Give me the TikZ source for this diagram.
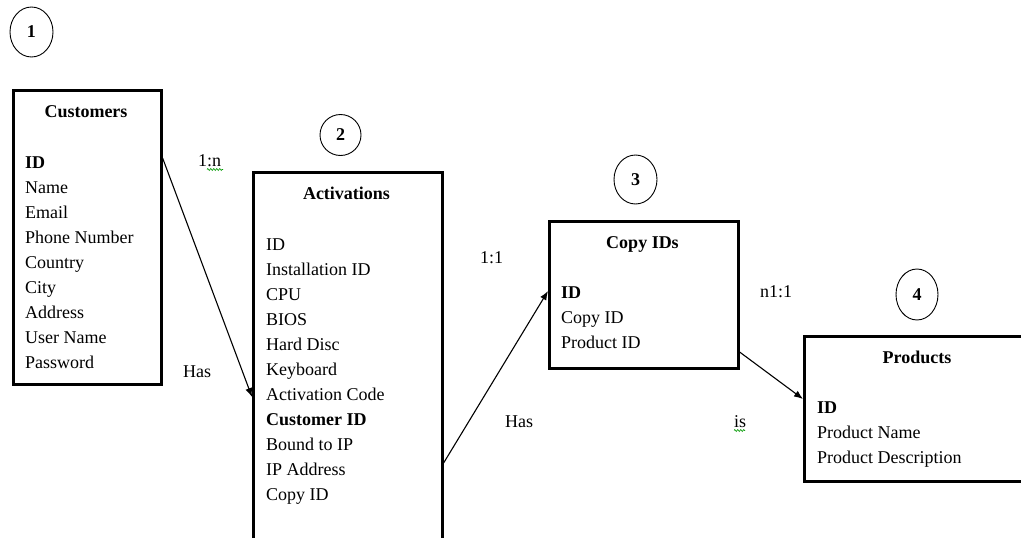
\documentclass[tikz,border=0pt]{standalone}
\usepackage{fontspec}
\setmainfont{Liberation Serif}
\usetikzlibrary{arrows.meta,shapes.geometric,decorations.pathmorphing}
\begin{document}
\begin{tikzpicture}[x=1pt,y=-1pt,
  tbl/.style={draw, line width=2.6pt, anchor=north west, inner sep=0pt},
  fld/.style={anchor=base west, inner sep=0pt, font=\fontsize{18}{22}\selectfont},
  key/.style={fld, font=\fontsize{18}{22}\selectfont\bfseries},
  hdr/.style={anchor=base, inner sep=0pt, font=\fontsize{18}{22}\selectfont\bfseries},
  num/.style={draw, ellipse, line width=0.9pt, inner sep=0pt, font=\fontsize{18}{22}\selectfont\bfseries},
  rel/.style={line width=1.1pt, -{Latex[length=9pt,width=7pt]}},
  lbl/.style={anchor=base west, inner sep=0pt, font=\fontsize{18}{22}\selectfont},
  spell/.style={green!60!black, line width=0.6pt, decorate, decoration={zigzag, segment length=3pt, amplitude=1pt}}
]
\useasboundingbox (0,0) rectangle (1021,538);

% numbered ellipses
\node[num, minimum width=43pt, minimum height=50pt] (n1) at (31.5,32) {1};
\node[num, minimum width=41pt, minimum height=41pt] (n2) at (340.5,135) {2};
\node[num, minimum width=43pt, minimum height=49pt] (n3) at (635.5,179.5) {3};
\node[num, minimum width=42pt, minimum height=51pt] (n4) at (917,294.5) {4};

% tables
\node[tbl, minimum width=148pt, minimum height=294pt] (cust) at (12,89) {};
\node[tbl, minimum width=189pt, minimum height=374pt] (act) at (252,171) {};
\node[tbl, minimum width=189pt, minimum height=147pt] (copy) at (548,220) {};
\node[tbl, minimum width=228pt, minimum height=145pt] (prod) at (803,335) {};

% Customers
\node[hdr] (ch) at (86,117) {Customers};
\node[key] (c1) at (25,168) {ID};
\node[fld] (c2) at (25,193) {Name};
\node[fld] (c3) at (25,218) {Email};
\node[fld] (c4) at (25,243) {Phone Number};
\node[fld] (c5) at (25,268) {Country};
\node[fld] (c6) at (25,293) {City};
\node[fld] (c7) at (25,318) {Address};
\node[fld] (c8) at (25,343) {User Name};
\node[fld] (c9) at (25,368) {Password};

% Activations
\node[hdr] (ah) at (346.5,199) {Activations};
\node[fld] (a1) at (266,250) {ID};
\node[fld] (a2) at (266,275) {Installation ID};
\node[fld] (a3) at (266,300) {CPU};
\node[fld] (a4) at (266,325) {BIOS};
\node[fld] (a5) at (266,350) {Hard Disc};
\node[fld] (a6) at (266,375) {Keyboard};
\node[fld] (a7) at (266,400) {Activation Code};
\node[key] (a8) at (266,425) {Customer ID};
\node[fld] (a9) at (266,450) {Bound to IP};
\node[fld] (a10) at (266,475) {IP Address};
\node[fld] (a11) at (266,500) {Copy ID};

% Copy IDs
\node[hdr] (ph) at (642.5,248) {Copy IDs};
\node[key] (p1) at (561,298) {ID};
\node[fld] (p2) at (561,323) {Copy ID};
\node[fld] (p3) at (561,348) {Product ID};

% Products
\node[hdr] (rh) at (917,363) {Products};
\node[key] (r1) at (817,413) {ID};
\node[fld] (r2) at (817,438) {Product Name};
\node[fld] (r3) at (817,463) {Product Description};

% connectors
\draw[rel] ([yshift=-69pt]cust.north east) -- ([yshift=-226pt]act.north west);
\draw[rel] ([yshift=-292pt]act.north east) -- ([yshift=-71pt]copy.north west);
\draw[rel] ([yshift=-132pt]copy.north east) -- ([yshift=-64pt]prod.north west);

% relation labels
\node[lbl] (l1) at (198,166) {1:n};
\node[lbl] (l2) at (183,377) {Has};
\node[lbl] (l3) at (480,263) {1:1};
\node[lbl] (l4) at (505,427) {Has};
\node[lbl] (l5) at (760,297) {n1:1};
\node[lbl] (l6) at (734,427) {is};
\coordinate (s1a) at (207,169.5); \coordinate (s1b) at (223,169.5);
\coordinate (s2a) at (734,430.5); \coordinate (s2b) at (745,430.5);
\draw[spell] (s1a) -- (s1b);
\draw[spell] (s2a) -- (s2b);
\end{tikzpicture}
\end{document}
